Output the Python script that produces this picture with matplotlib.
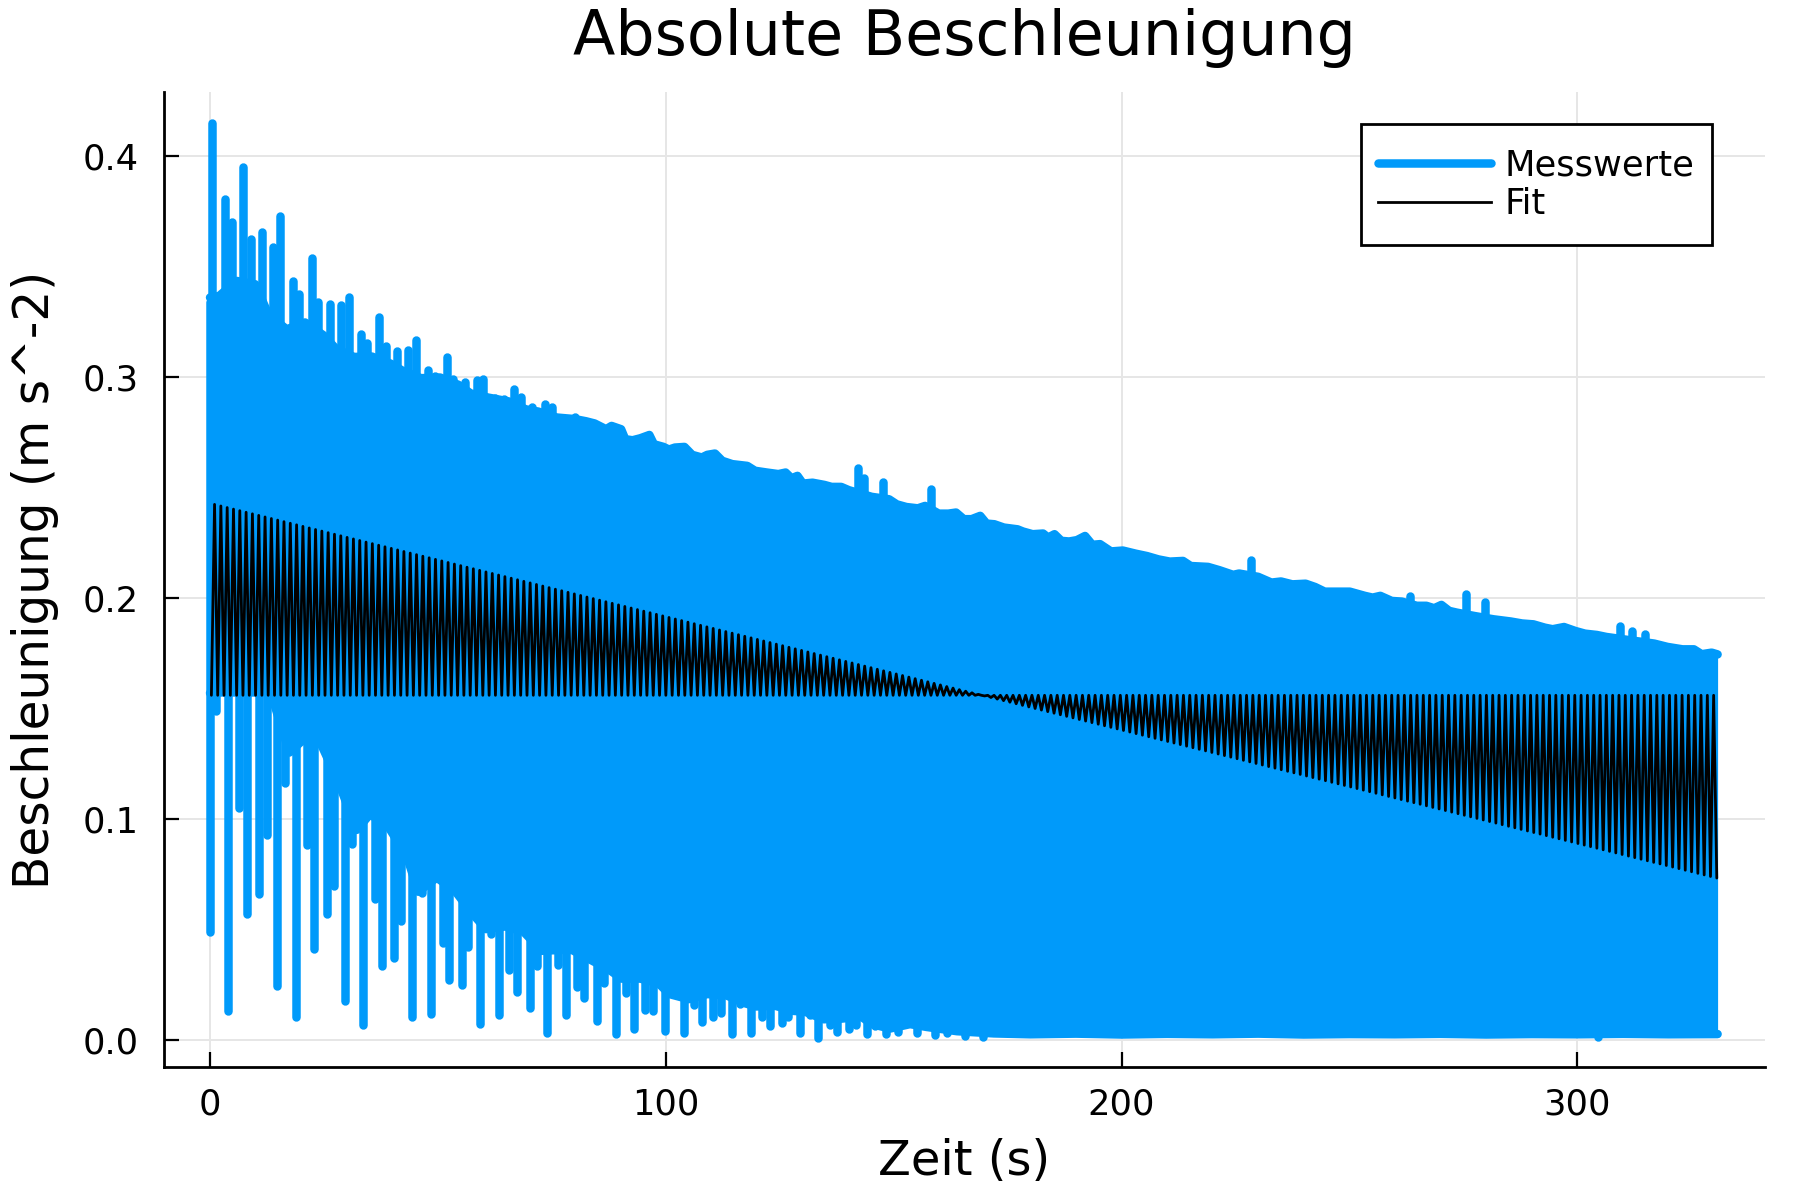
import numpy as np
import matplotlib
matplotlib.use("Agg")
import matplotlib.pyplot as plt
from matplotlib.lines import Line2D
from matplotlib.path import Path

# ---------------- data ----------------
# Messwerte: isolated upward spikes (time s, value m s^-2)
up_t = [0.5, 3.3, 4.9, 7.3, 8.9, 11.3, 13.8, 15.4, 18.3, 19.6, 22.3, 23.8, 26.3, 28.7,
        30.4, 33.1, 34.4, 37.1, 38.6, 41.1, 43.5, 45.1, 47.9, 49.4, 51.9, 53.4, 56.0,
        58.5, 60.0, 62.5, 64.4, 66.6, 68.2, 70.7, 73.5, 75.0, 77.5, 78.6, 80.1,
        142.1, 143.5, 147.6, 158.3, 228.5, 263.4, 275.7, 279.7, 309.3, 312.0, 314.8]
up_v = [0.415, 0.3805, 0.370, 0.395, 0.3624, 0.3657, 0.359, 0.373, 0.3435, 0.3375,
        0.354, 0.334, 0.333, 0.3325, 0.3363, 0.3197, 0.3156, 0.3272, 0.3141, 0.3118,
        0.3121, 0.3168, 0.3031, 0.3005, 0.3093, 0.299, 0.2979, 0.2987, 0.2993, 0.2907,
        0.290, 0.2948, 0.2912, 0.2866, 0.288, 0.2866, 0.2817, 0.2809, 0.2821,
        0.259, 0.2545, 0.2527, 0.2492, 0.2171, 0.201, 0.202, 0.198, 0.1874, 0.1849, 0.1837]

# Messwerte: isolated downward spikes
dn_t = [0.0, 1.3, 4.0, 6.4, 8.05, 10.8, 12.4, 14.8, 16.5, 18.9, 21.2, 22.8, 25.6, 27.2,
        29.6, 31.2, 33.65, 36.1, 37.7, 40.4, 41.9, 44.4, 46.45, 48.4, 51.1, 52.5, 55.2,
        56.7, 59.25, 61.6, 63.3, 65.7, 67.3, 70.1, 71.7, 74.0, 76.4, 78.05, 80.5, 82.1,
        84.9, 86.5, 89.0, 91.3, 93.0, 95.45, 97.1, 99.85, 101.8, 103.9, 106.1, 107.9,
        110.45, 112.1, 114.6, 116.3, 118.6, 121.05, 122.9, 125.4, 126.9, 129.5, 131.7,
        133.5, 136.05, 137.5, 140.1, 141.7, 144.25, 145.9, 148.3, 151.05, 155.1, 159.1,
        161.7, 165.7, 169.7, 304.6]
dn_v = [0.0487, 0.149, 0.0132, 0.1052, 0.057, 0.066, 0.0927, 0.0245, 0.1165, 0.0102,
        0.0882, 0.0411, 0.057, 0.0698, 0.0177, 0.0886, 0.0067, 0.064, 0.0333, 0.0369,
        0.0539, 0.0102, 0.0665, 0.0117, 0.0441, 0.0272, 0.0248, 0.0419, 0.0072, 0.0479,
        0.0113, 0.0318, 0.0218, 0.0147, 0.0336, 0.0034, 0.0339, 0.0113, 0.0238, 0.0188,
        0.0087, 0.026, 0.0027, 0.0215, 0.0052, 0.0137, 0.0132, 0.0042, 0.0208, 0.0034,
        0.0158, 0.0082, 0.0106, 0.0122, 0.0027, 0.0162, 0.0031, 0.0102, 0.0064, 0.0076,
        0.0102, 0.0031, 0.0113, 0.0011, 0.0067, 0.0037, 0.0049, 0.0067, 0.0027, 0.0064,
        0.0027, 0.0037, 0.0031, 0.0022, 0.0034, 0.0019, 0.0016, 0.0014]

# Messwerte: upper edge of the dense oscillation band
top_t = [0.0, 2.0, 5.85, 9.9, 12.8, 16.8, 20.85, 24.9, 27.6, 31.6, 35.5, 39.6, 42.3, 46.3,
         50.5, 54.5, 57.2, 61.1, 65.5, 69.3, 72.0, 76.1, 80.0, 82.5, 84.4, 86.9, 88.1,
         90.2, 91.1, 92.7, 94.4, 96.4, 97.4, 99.5, 100.7, 102.0, 104.1, 105.8, 107.9,
         109.1, 110.8, 112.4, 114.6, 117.9, 119.6, 122.2, 124.7, 126.3, 127.6, 128.9,
         130.1, 132.2, 134.8, 136.4, 138.5, 140.2, 145.2, 149.0, 150.7, 152.8, 155.3,
         156.9, 159.9, 162.0, 163.7, 165.4, 167.1, 169.0, 170.4, 172.1, 174.2, 177.2,
         178.4, 180.5, 182.8, 183.9, 185.3, 186.8, 188.5, 190.2, 192.0, 193.6, 195.3,
         197.7, 200.3, 203.1, 205.6, 208.1, 210.6, 213.5, 215.2, 219.0, 221.5, 224.5,
         225.8, 230.0, 232.9, 235.0, 237.5, 240.4, 242.5, 244.6, 250.1, 253.4, 255.1,
         256.8, 259.3, 261.5, 264.8, 266.9, 268.6, 270.2, 271.9, 273.6, 277.4, 281.6,
         285.4, 287.9, 290.4, 292.9, 294.6, 297.1, 299.6, 301.7, 304.3, 306.4, 316.9,
         319.8, 323.1, 325.6, 327.3, 329.5, 330.8]
top_v = [0.336, 0.3367, 0.3435, 0.342, 0.3284, 0.3216, 0.3247, 0.3189, 0.3129, 0.3091,
         0.3093, 0.3061, 0.3028, 0.2995, 0.2998, 0.2965, 0.2926, 0.2907, 0.289, 0.2854,
         0.2844, 0.2817, 0.281, 0.280, 0.279, 0.2764, 0.2779, 0.2764, 0.2719, 0.2714,
         0.2723, 0.2738, 0.2696, 0.2684, 0.2672, 0.2681, 0.2684, 0.2648, 0.2636, 0.2648,
         0.2654, 0.2621, 0.2606, 0.2598, 0.2576, 0.2568, 0.2561, 0.2568, 0.2542, 0.2553,
         0.2518, 0.2522, 0.2512, 0.2503, 0.2503, 0.2488, 0.2458, 0.2447, 0.2424, 0.2412,
         0.2406, 0.2417, 0.2382, 0.2382, 0.2387, 0.2357, 0.2357, 0.2372, 0.2337, 0.2334,
         0.2319, 0.2311, 0.2301, 0.2289, 0.2292, 0.2274, 0.2289, 0.2259, 0.2256, 0.2262,
         0.2281, 0.2241, 0.2244, 0.2211, 0.2215, 0.2201, 0.219, 0.2175, 0.2165, 0.2168,
         0.2145, 0.2141, 0.2126, 0.2105, 0.2111, 0.2096, 0.207, 0.2075, 0.2062, 0.2065,
         0.205, 0.2029, 0.2029, 0.201, 0.2002, 0.201, 0.1987, 0.1984, 0.1965, 0.1965,
         0.1954, 0.1969, 0.1942, 0.1934, 0.1919, 0.1904, 0.1894, 0.1885, 0.1881, 0.1866,
         0.1859, 0.1869, 0.1851, 0.1839, 0.1833, 0.1824, 0.1794, 0.1779, 0.1768, 0.1768,
         0.1746, 0.1753, 0.1745]

# Messwerte: lower edge of the dense oscillation band
bot_t = [0.0, 2.56, 5.34, 9.36, 13.3, 17.41, 20.19, 24.14, 28.16, 32.18, 35.1, 39.13,
         43.16, 45.7, 49.74, 53.76, 57.78, 60.57, 64.76, 68.76, 72.8, 77.2, 79.4, 83.5,
         87.6, 90.3, 94.4, 98.4, 100.8, 105.0, 109.1, 113.2, 117.3, 119.8, 124.0, 128.0,
         130.6, 134.6, 138.6, 142.9, 145.2, 149.2, 153.6, 157.3, 163.9, 172.0, 180.0,
         190.0, 200.0, 210.0, 220.0, 230.0, 240.0, 250.0, 260.0, 270.0, 280.0, 290.0,
         300.0, 310.0, 320.0, 330.8]
bot_v = [0.157, 0.1573, 0.1573, 0.1573, 0.1573, 0.1301, 0.1354, 0.1349, 0.1168, 0.0951,
         0.1022, 0.0965, 0.0833, 0.0671, 0.0735, 0.0675, 0.0567, 0.0502, 0.0514, 0.0491,
         0.0404, 0.0408, 0.0408, 0.0363, 0.0318, 0.0278, 0.0278, 0.0257, 0.0208, 0.0185,
         0.0208, 0.0203, 0.0167, 0.0152, 0.0155, 0.0132, 0.0128, 0.0094, 0.0097, 0.0106,
         0.0072, 0.0052, 0.0072, 0.0059, 0.0040, 0.0030, 0.0026, 0.0029, 0.0025, 0.0028,
         0.0026, 0.0029, 0.0025, 0.0027, 0.0026, 0.0028, 0.0025, 0.0027, 0.0026, 0.0028,
         0.0026, 0.0027]

# Fit: oscillates between a constant base and a linearly changing envelope
fit_env_t = [0.0, 331.0]
fit_env_v = [0.2429, 0.0731]
fit_base = 0.156
fit_period = 1.385
fit_t_start = 0.3
fit_t_end = 331.0

x_ticks = [0, 100, 200, 300]
y_ticks = [0.0, 0.1, 0.2, 0.3, 0.4]

BLUE = "#009AFA"
LW_MESS = 3.06   # pt (about 8.5 px at 200 dpi)
LW_FIT = 1.0

# ---------------- figure ----------------
fig = plt.figure(figsize=(9, 6), dpi=200)
L, R, T, B = 164, 1765, 92, 1067
ax = fig.add_axes([L / 1800, 1 - B / 1200, (R - L) / 1800, (B - T) / 1200])
ax.set_xlim(-10.1, 341.2)
ax.set_ylim(-0.0122, 0.4290)

# Messwerte
top_t_a = np.array(top_t); top_v_a = np.array(top_v)
bot_t_a = np.array(bot_t); bot_v_a = np.array(bot_v)
grid_t = np.union1d(top_t_a, bot_t_a)
g_top = np.interp(grid_t, top_t_a, top_v_a)
g_bot = np.interp(grid_t, bot_t_a, bot_v_a)
ax.fill_between(grid_t, g_bot, g_top, color=BLUE, lw=0, zorder=2)
ax.plot(top_t_a, top_v_a, color=BLUE, lw=LW_MESS, solid_joinstyle="round",
        solid_capstyle="round", zorder=2)
ax.plot(bot_t_a, bot_v_a, color=BLUE, lw=LW_MESS, solid_joinstyle="round",
        solid_capstyle="round", zorder=2)
up_t_a = np.array(up_t)
ax.vlines(up_t_a, np.interp(up_t_a, bot_t_a, bot_v_a) + 0.002, up_v, colors=BLUE,
          lw=LW_MESS, capstyle="round", zorder=2)
dn_t_a = np.array(dn_t)
ax.vlines(dn_t_a, dn_v, np.interp(dn_t_a, top_t_a, top_v_a) - 0.002, colors=BLUE,
          lw=LW_MESS, capstyle="round", zorder=2)

# Fit
ft = np.arange(fit_t_start, fit_t_end, fit_period / 2)
fv = np.where(np.arange(len(ft)) % 2 == 0, fit_base, np.interp(ft, fit_env_t, fit_env_v))
ax.plot(ft, fv, color="black", lw=LW_FIT, solid_joinstyle="round",
        solid_capstyle="round", zorder=3)

# axes styling
for s in ["top", "right"]:
    ax.spines[s].set_visible(False)
for s in ["left", "bottom"]:
    ax.spines[s].set_linewidth(1.0)
    ax.spines[s].set_color("black")
ax.set_xticks(x_ticks)
ax.set_yticks(y_ticks)
ax.set_xticklabels([str(v) for v in x_ticks])
ax.set_yticklabels([f"{v:.1f}" for v in y_ticks])
ax.tick_params(axis="both", direction="in", length=5.4, width=0.8, labelsize=12.7,
               color="black")
ax.tick_params(axis="x", pad=7.5)
ax.tick_params(axis="y", pad=9.0)
ax.grid(True, color="#e6e6e6", lw=0.7, zorder=0)
ax.set_axisbelow(True)

# legend (frame gets a little extra vertical padding)
EXTRA = 0.2  # in units of the legend font size


def tall_box(x0, y0, width, height, mutation_size, *args, **kwargs):
    dy = EXTRA * mutation_size
    return Path([(x0, y0 - dy), (x0 + width, y0 - dy), (x0 + width, y0 + height + dy),
                 (x0, y0 + height + dy), (x0, y0 - dy)], closed=True)


handles = [Line2D([], [], color=BLUE, lw=LW_MESS, solid_capstyle="round"),
           Line2D([], [], color="black", lw=LW_FIT)]
leg_fs = 12.7
dy_axes = EXTRA * leg_fs * 200 / 72 / (B - T)
leg = ax.legend(handles, ["Messwerte", "Fit"], loc="upper right",
                bbox_to_anchor=(0.9667, 0.9669 - dy_axes), borderaxespad=0,
                fontsize=leg_fs, frameon=True, fancybox=False, handlelength=3.2,
                handletextpad=0.4, labelspacing=0.14, borderpad=0.48)
frame = leg.get_frame()
frame.set_boxstyle(tall_box)
frame.set_edgecolor("black")
frame.set_linewidth(1.0)
frame.set_alpha(1.0)

# titles
cx = (L + R) / 2 / 1800
fig.text(cx, 1 - 55 / 1200, "Absolute Beschleunigung", ha="center", va="baseline",
         fontsize=22.3)
fig.text(cx, 1 - 1175 / 1200, "Zeit (s)", ha="center", va="baseline", fontsize=17.3)
fig.text(35 / 1800, 1 - (T + B) / 2 / 1200, "Beschleunigung (m s^-2)", rotation=90,
         ha="center", va="center", fontsize=17.5)

fig.savefig("out.png", dpi=200)
